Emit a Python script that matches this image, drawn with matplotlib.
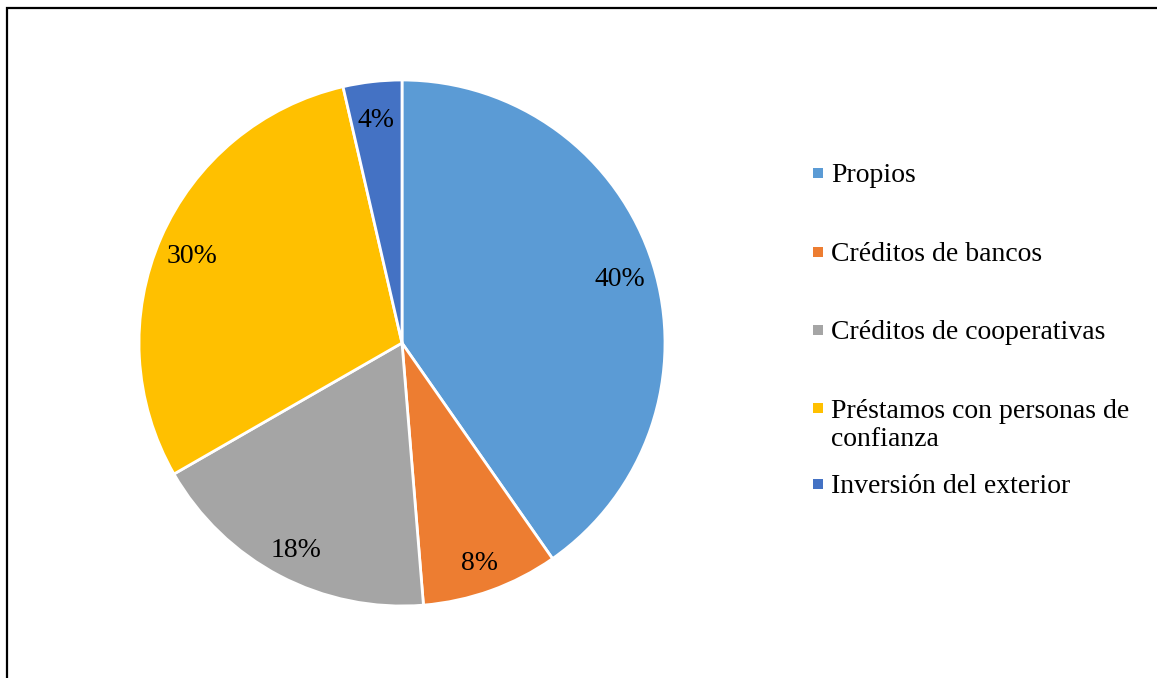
import matplotlib.pyplot as plt
from matplotlib.patches import Rectangle

plt.rcParams['font.family'] = ['Liberation Serif', 'DejaVu Serif']

labels = ['Propios', 'Créditos de bancos', 'Créditos de cooperativas',
          'Préstamos con personas de\nconfianza', 'Inversión del exterior']
values = [40.3, 8.4, 18.0, 29.7, 3.6]
colors = ['#5B9BD5', '#ED7D31', '#A5A5A5', '#FFC000', '#4472C4']

W, H = 1157, 678
fig = plt.figure(figsize=(W / 100, H / 100), dpi=100)

# outer frame (cropped at right and bottom)
fig.add_artist(Rectangle((6.5 / W, -0.05), 1.1, 1 - 7.5 / H + 0.05,
                         transform=fig.transFigure, fill=False,
                         edgecolor='black', linewidth=1.6))

# pie centre (402, 343) px, radius 263 px
cx, cy, r = 402, 343, 263
ax = fig.add_axes([(cx - r) / W, (H - cy - r) / H, 2 * r / W, 2 * r / H])
wedges, texts, autotexts = ax.pie(
    values, colors=colors, startangle=90, counterclock=False,
    autopct='%.0f%%', pctdistance=0.87,
    wedgeprops=dict(edgecolor='white', linewidth=2),
    textprops=dict(fontsize=20, color='black'))
ax.set_xlim(-1, 1)
ax.set_ylim(-1, 1)
ax.set_aspect('equal')
for t in autotexts:
    x, y = t.get_position()
    t.set_position((x, y - 5 / r))

# legend drawn by hand so the wrapped entry keeps Excel-like spacing
rows = [173, 252, 330, 408, 484]
for lab, col, y in zip(labels, colors, rows):
    fig.add_artist(Rectangle((813 / W, (H - y - 5) / H), 10 / W, 10 / H,
                             transform=fig.transFigure, facecolor=col,
                             edgecolor='none'))
    nlines = lab.count('\n')
    fig.text(831 / W, (H - y - 9 - 29 * nlines) / H, lab, fontsize=20,
             va='baseline', ha='left', linespacing=1.17)

fig.savefig('out.png', dpi=100)
